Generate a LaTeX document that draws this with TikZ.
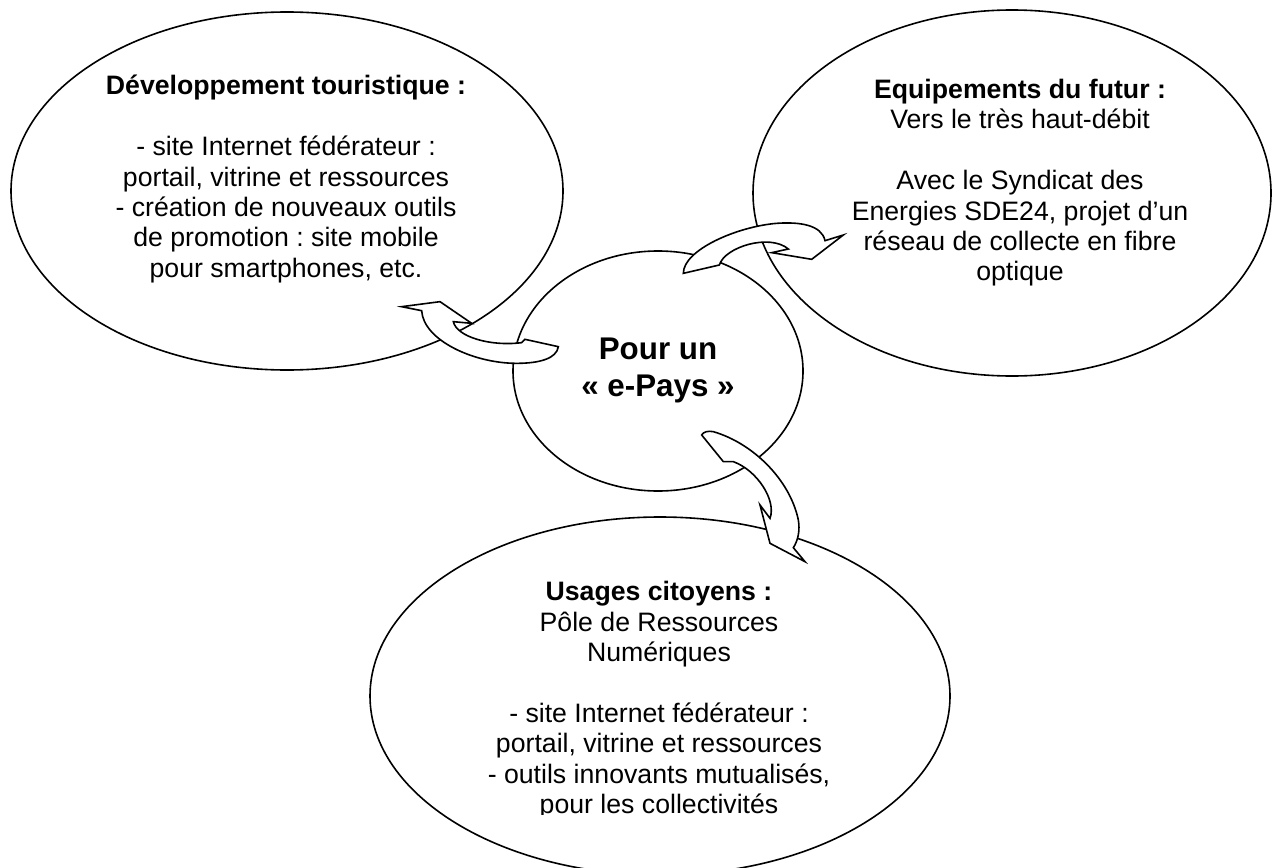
\documentclass[tikz,border=0pt]{standalone}
\usepackage{fontspec}
\setmainfont{Liberation Sans}
\usetikzlibrary{shapes.geometric}

\begin{document}
\begin{tikzpicture}[x=0.75pt, y=-0.75pt]
\tikzstyle{bolla} = [draw, ellipse, fill=white, line width=1.2pt, inner sep=0]
\tikzstyle{testo} = [align=center, anchor=north, inner sep=0, font=\frenchspacing\fontsize{20}{22.8}\selectfont]
\tikzstyle{freccia} = [draw, fill=white, line width=1.2pt]

% Cornice
\useasboundingbox (0,0) rectangle (1273,867);
\clip (0,0) rectangle (1273,867);

% Bolle: nome/x/y/raggio x/raggio y
\foreach \nome/\x/\y/\rx/\ry in {tur/287/191/276/179, equ/1012/193/259/183,
                                 pays/658/371/145/120, usa/660/696/290/179} {
  \node[bolla, minimum width=2*\rx*0.75pt, minimum height=2*\ry*0.75pt] (\nome) at (\x,\y) {};
}

% Testi
\node[testo] (tur-t) at (286,75) {\textbf{Développement touristique :}\\[22.8pt]
  - site Internet fédérateur :\\ portail, vitrine et ressources\\
  - création de nouveaux outils\\ de promotion : site mobile\\ pour smartphones, etc.};

\node[testo] (equ-t) at (1020,79) {\textbf{Equipements du futur :}\\ Vers le très haut-débit\\[22.8pt]
  Avec le Syndicat des\\ Energies SDE24, projet d’un\\ réseau de collecte en fibre\\ optique};

\node[testo, font=\frenchspacing\bfseries\fontsize{23.5}{27.6}\selectfont] (pays-t) at (658,338) {Pour un\\« e-Pays »};

% ultima riga tagliata
\begin{scope}
  \clip (0,0) rectangle (1273,814);
  \node[testo] (usa-t) at (659,581) {\textbf{Usages citoyens :}\\ Pôle de Ressources\\ Numériques\\[22.8pt]
    - site Internet fédérateur :\\ portail, vitrine et ressources\\
    - outils innovants mutualisés,\\ pour les collectivités};
\end{scope}

% --- Frecce curve -----------------------------------------------
% verso Développement touristique
\begin{scope}[shift={(390,280)}, scale=1/3]
  \draw[freccia] (35,80) -- (150,65) -- (245,130) -- (190,125)
    .. controls (200,170) and (300,200) .. (395,188) -- (405,178) -- (505,200)
    .. controls (500,235) and (450,250) .. (380,250)
    .. controls (250,250) and (100,180) .. (95,92) -- cycle;
\end{scope}

% verso Equipements du futur
\begin{scope}[shift={(670,200)}, scale=1/3]
  \draw[freccia] (40,220) -- (148,195)
    .. controls (165,140) and (300,100) .. (355,147) -- (305,158) -- (425,178)
    -- (520,105) -- (465,122)
    .. controls (455,75) and (390,65) .. (320,70)
    .. controls (200,80) and (40,150) .. (40,220) -- cycle;
\end{scope}

% verso Usages citoyens
\begin{scope}[shift={(680,420)}, scale=1/3]
  \draw[freccia] (130,125) -- (65,45) .. controls (70,35) and (85,32) .. (100,35)
    .. controls (220,70) and (330,180) .. (355,300)
    .. controls (360,330) and (355,360) .. (340,383) -- (375,425) -- (270,370)
    -- (240,255) -- (270,295)
    .. controls (290,240) and (230,150) .. (160,125) -- cycle;
\end{scope}

\end{tikzpicture}
\end{document}
